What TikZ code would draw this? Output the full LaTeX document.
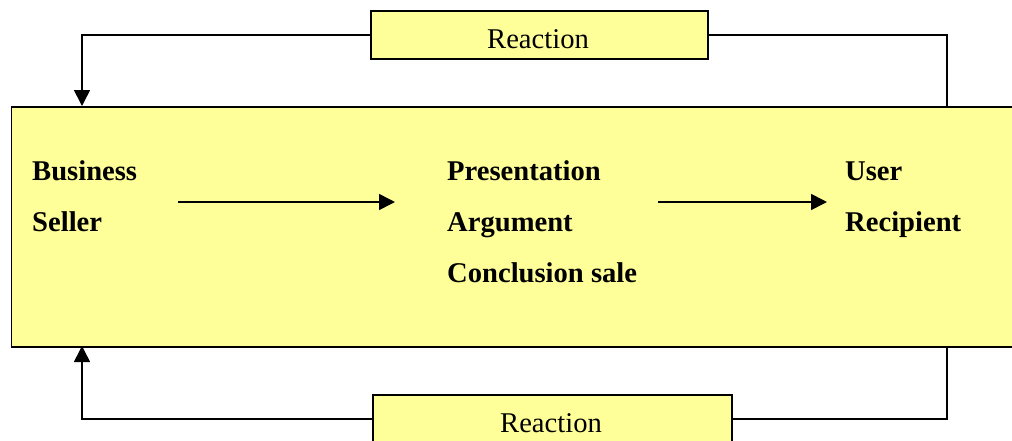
\documentclass[tikz,border=0pt]{standalone}
\usepackage{fontspec}
\setmainfont{Liberation Serif}
\usetikzlibrary{arrows.meta}
\definecolor{paleyellow}{HTML}{FFFF99}
\tikzset{
  panel/.style={draw=black, line width=1.6pt, fill=paleyellow, rectangle, inner sep=0pt, anchor=north west},
  link/.style={draw=black, line width=1.6pt},
  tip/.style={-{Triangle[width=16pt,length=16pt]}},
  word/.style={inner sep=0pt, anchor=base west, font=\fontsize{28.6}{34}\selectfont\bfseries},
  plain/.style={inner sep=0pt, anchor=base, font=\fontsize{28.6}{34}\selectfont},
}
\begin{document}
\begin{tikzpicture}[x=1pt,y=1pt]
\useasboundingbox (0,0) rectangle (1012,-440);
\begin{scope}
\clip (0,0) rectangle (1012,-440);

% main process panel and the two feedback boxes
\node[panel, minimum width=1010pt, minimum height=240pt] (main) at (10.5,-106) {};
\node[panel, minimum width=337pt, minimum height=48pt] (top) at (370,-10) {};
\node[panel, minimum width=359pt, minimum height=48pt] (bottom) at (372,-394) {};

\node[plain] (toplabel) at (538,-48) {Reaction};
\node[plain] (bottomlabel) at (551,-432) {Reaction};

% feedback loop anchor points on the panel edges
\coordinate (inTop) at (82,-106);
\coordinate (outTop) at (947,-106);
\coordinate (inBottom) at (82,-346);
\coordinate (outBottom) at (947,-346);

\draw[link, tip] (top.west) -| (inTop);
\draw[link] (top.east) -| (outTop);
\draw[link] (outBottom) |- (bottom.east);
\draw[link, tip] (bottom.west) -| (inBottom);

% stages of the sale
\node[word] (business) at (32,-180) {Business};
\node[word] (seller) at (32,-231) {Seller};
\node[word] (presentation) at (447,-180) {Presentation};
\node[word] (argument) at (447,-231) {Argument};
\node[word] (conclusion) at (447,-282) {Conclusion sale};
\node[word] (user) at (845,-180) {User};
\node[word] (recipient) at (845,-231) {Recipient};

\coordinate (a1s) at (178,-202);
\coordinate (a1e) at (395,-202);
\coordinate (a2s) at (658,-202);
\coordinate (a2e) at (827,-202);
\draw[link, tip] (a1s) -- (a1e);
\draw[link, tip] (a2s) -- (a2e);
\end{scope}
\end{tikzpicture}
\end{document}
